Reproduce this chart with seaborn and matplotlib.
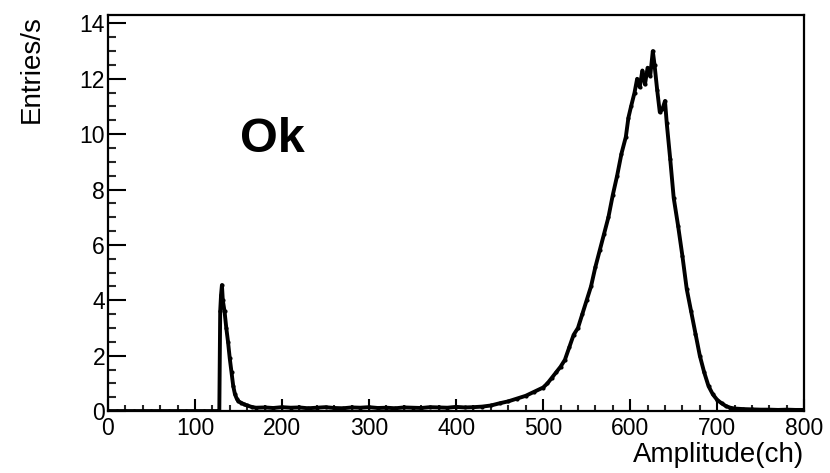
import numpy as np
import pandas as pd
import matplotlib
matplotlib.use('Agg')
import matplotlib.pyplot as plt
from matplotlib.ticker import MultipleLocator
import seaborn as sns

# Canales (ch) y tasa (Entries/s)
canales = [0, 10, 20, 30, 40, 50, 60, 70, 80, 90, 100, 110, 120, 126, 128,
           129, 130, 131, 132, 134, 136, 138, 140, 142, 144, 146, 148, 150,
           153, 156, 160, 165, 170, 180, 190, 200, 210, 220, 230, 240, 250,
           260, 270, 280, 290, 300, 310, 320, 330, 340, 350, 360, 370, 380,
           390, 400, 410, 420, 430, 440, 450, 460, 470, 480, 490, 500, 505,
           510, 515, 520, 525, 530, 535, 540, 545, 550, 555, 560, 565, 570,
           575, 580, 585, 590, 595, 598, 601, 605, 608, 611, 614, 617, 620,
           623, 626, 628, 631, 634, 637, 640, 642, 646, 650, 655, 660, 665,
           670, 675, 680, 685, 690, 695, 700, 705, 710, 715, 720, 730, 740,
           750, 760, 770, 780, 790, 800]
tasa = [0, 0, 0, 0, 0, 0, 0, 0, 0, 0, 0, 0, 0, 0, 0,
        3.6, 4.2, 4.55, 4.0, 3.6, 3.0, 2.5, 1.9, 1.4, 0.9, 0.6, 0.45, 0.35,
        0.3, 0.25, 0.2, 0.15, 0.12, 0.13, 0.11, 0.14, 0.12, 0.13, 0.1, 0.12, 0.14,
        0.11, 0.1, 0.13, 0.12, 0.14, 0.11, 0.12, 0.1, 0.13, 0.12, 0.11, 0.14, 0.13,
        0.12, 0.15, 0.13, 0.14, 0.16, 0.2, 0.28, 0.35, 0.45, 0.55, 0.7, 0.85, 1.0,
        1.2, 1.4, 1.6, 1.85, 2.3, 2.75, 3.0, 3.5, 4.0, 4.5, 5.2, 5.8, 6.4,
        7.0, 7.8, 8.5, 9.3, 9.9, 10.6, 11.0, 11.5, 12.0, 11.7, 12.3, 11.8, 12.4,
        12.1, 13.0, 12.5, 11.6, 10.8, 10.9, 11.2, 10.4, 9.1, 7.7, 6.7, 5.6, 4.4,
        3.6, 2.8, 2.0, 1.4, 0.9, 0.6, 0.4, 0.28, 0.18, 0.12, 0.09, 0.07, 0.06,
        0.05, 0.05, 0.04, 0.05, 0.04, 0.04]

df = pd.DataFrame({'Amplitude': canales, 'Rate': tasa})

sns.set_style('ticks')
plt.rcParams['font.family'] = ['Liberation Sans', 'DejaVu Sans']
plt.rcParams['text.color'] = 'black'
plt.rcParams['axes.labelcolor'] = 'black'

fig = plt.figure(figsize=(8.3, 4.73), dpi=100)
ax = fig.add_axes([0.130, 0.131, 0.839, 0.837])

sns.lineplot(data=df, x='Amplitude', y='Rate', color='black', linewidth=2.8,
             marker='o', markersize=3, markeredgewidth=0, ax=ax)

ax.set_xlim(0, 800)
ax.set_ylim(0, 14.3)
ax.xaxis.set_major_locator(MultipleLocator(100))
ax.xaxis.set_minor_locator(MultipleLocator(20))
ax.yaxis.set_major_locator(MultipleLocator(2))
ax.yaxis.set_minor_locator(MultipleLocator(0.5))

ax.tick_params(axis='both', direction='in', labelsize=16.5, width=1.5,
               colors='black', pad=2)
ax.tick_params(axis='x', which='major', length=9, pad=4)
ax.tick_params(axis='x', which='minor', length=4.5, width=1.5, direction='in')
ax.tick_params(axis='y', which='major', length=13)
ax.tick_params(axis='y', which='minor', length=6, width=1.5, direction='in')

for s in ax.spines.values():
    s.set_linewidth(1.6)
    s.set_color('black')

ax.set_xlabel('Amplitude(ch)', fontsize=20, loc='right', labelpad=2)
ax.set_ylabel('Entries/s', fontsize=20, loc='top', labelpad=25)

ax.text(0.19, 0.685, 'Ok', transform=ax.transAxes, fontsize=35,
        fontweight='bold', ha='left', va='center', color='black')

plt.savefig('out.png', dpi=100)
